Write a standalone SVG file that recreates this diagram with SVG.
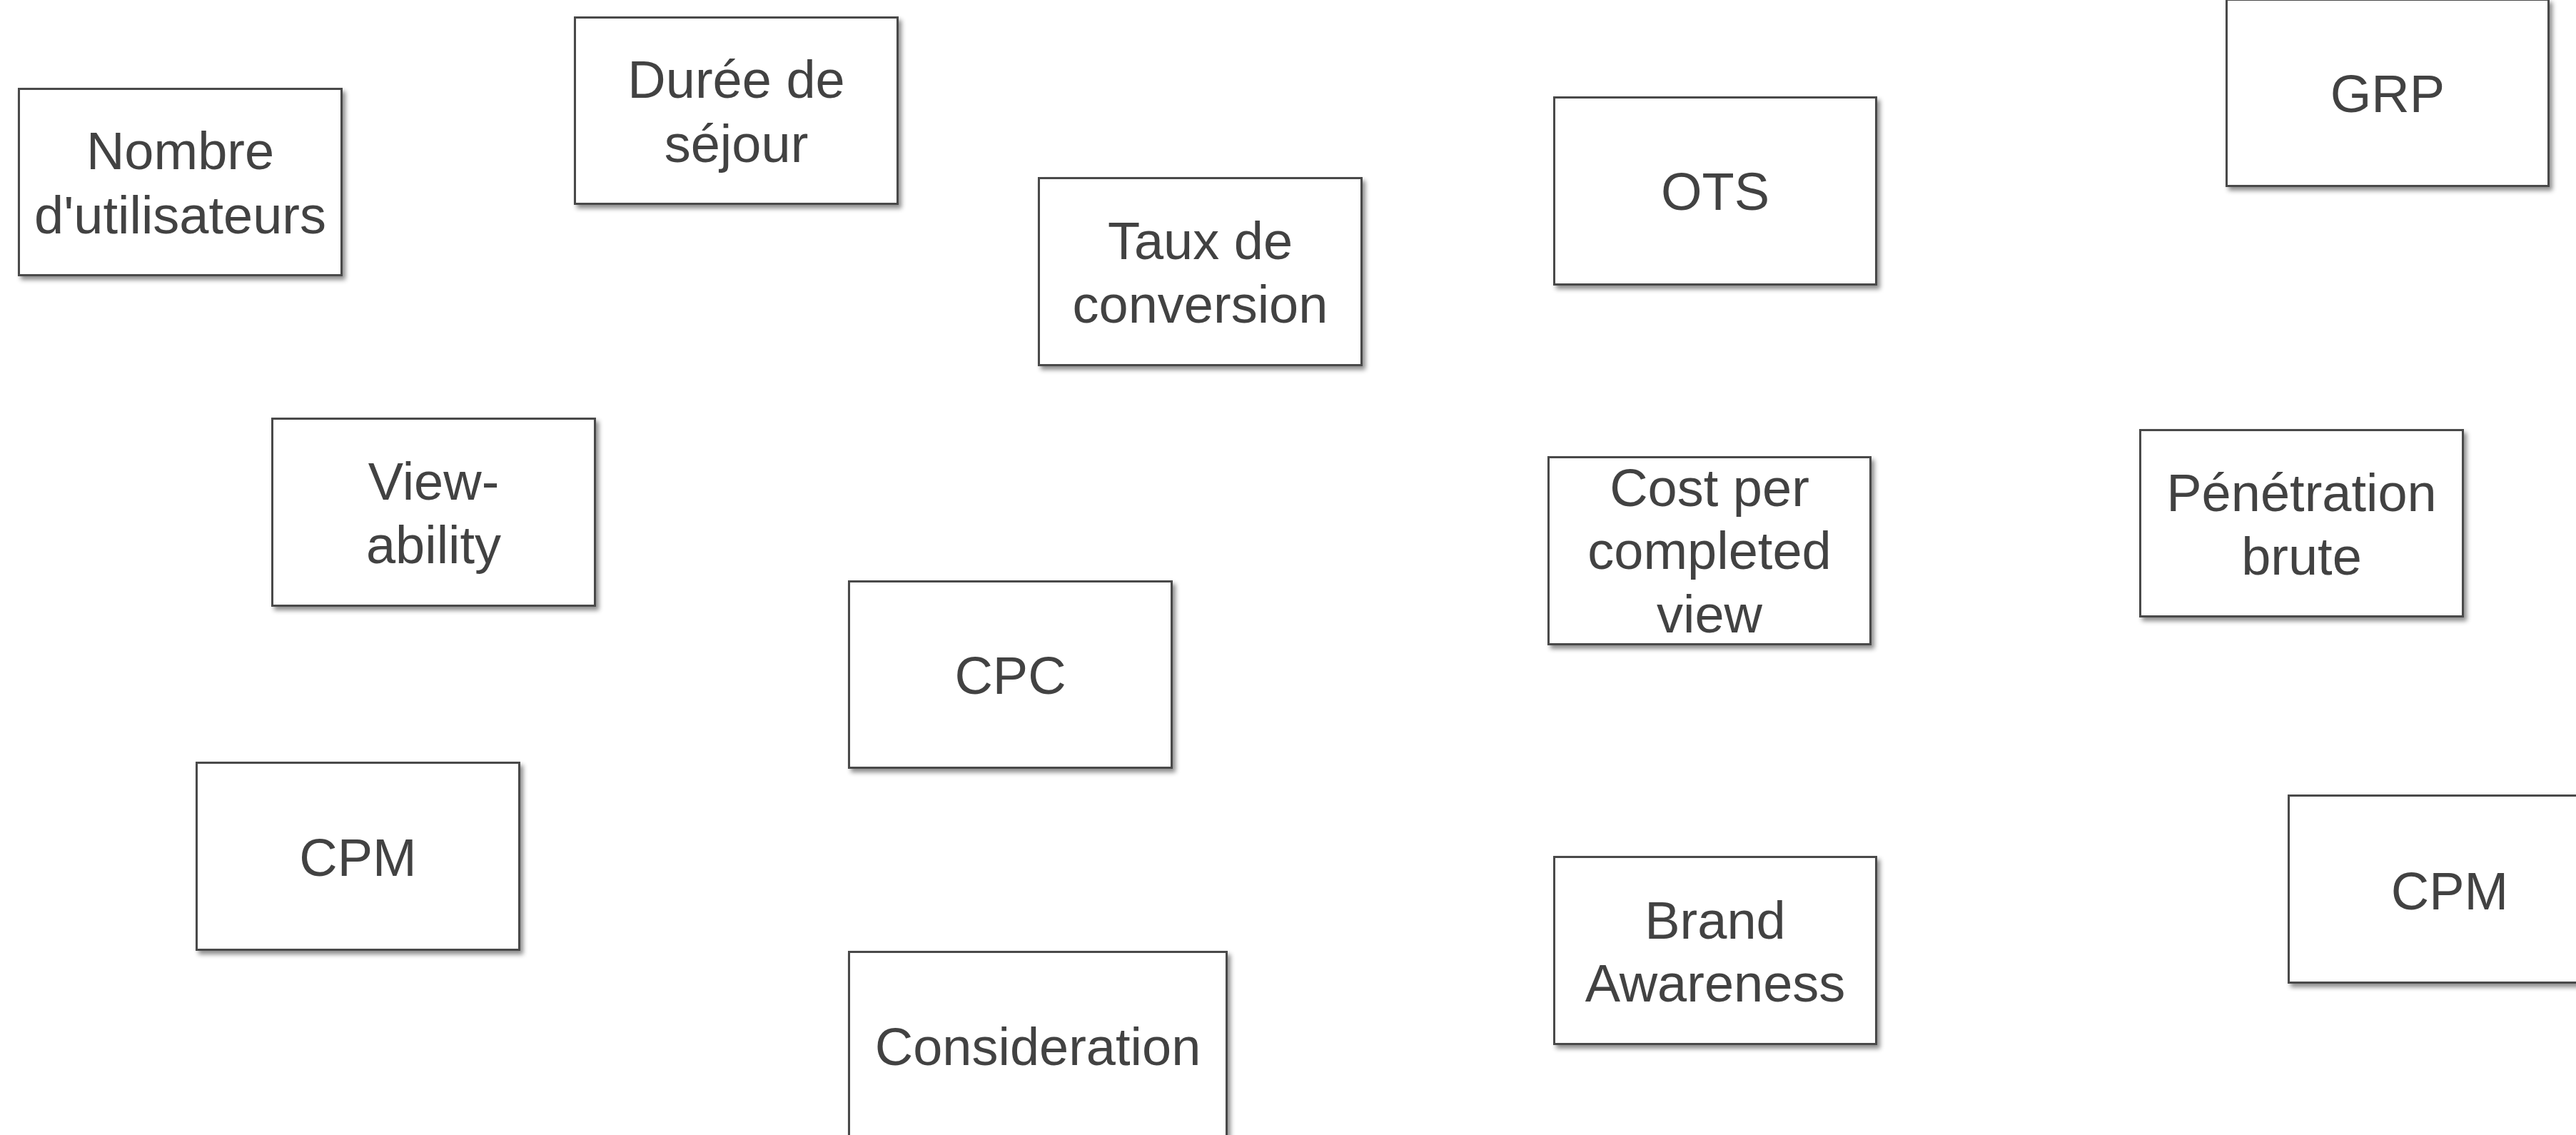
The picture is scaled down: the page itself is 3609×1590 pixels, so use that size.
<svg xmlns="http://www.w3.org/2000/svg" width="3609" height="1590" viewBox="0 0 3609 1590">
<defs>
<filter id="sh" x="-10%" y="-10%" width="125%" height="130%">
<feDropShadow dx="4" dy="5" stdDeviation="3" flood-color="#000" flood-opacity="0.45"/>
</filter>
<style>
.box{fill:#fff;stroke:#4a4a4a;stroke-width:3;filter:url(#sh)}
.lbl{font-family:"Liberation Sans",Arial,sans-serif;font-size:74px;fill:#424242;text-anchor:middle}
</style>
</defs>
<rect width="3609" height="1590" fill="#fff"/>
<g id="connectors"></g>
<g id="n-nombre"><rect class="box" x="26.5" y="124.5" width="452" height="261"/><text class="lbl" x="252.5" y="237"><tspan x="252.5">Nombre</tspan><tspan x="252.5" y="327">d'utilisateurs</tspan></text></g>
<g id="n-duree"><rect class="box" x="805.5" y="24.5" width="452" height="261"/><text class="lbl" x="1031.5" y="137"><tspan x="1031.5">Durée de</tspan><tspan x="1031.5" y="227">séjour</tspan></text></g>
<g id="n-taux"><rect class="box" x="1455.5" y="249.5" width="452" height="262"/><text class="lbl" x="1681.5" y="363"><tspan x="1681.5">Taux de</tspan><tspan x="1681.5" y="452">conversion</tspan></text></g>
<g id="n-ots"><rect class="box" x="2177.5" y="136.5" width="451" height="262"/><text class="lbl" x="2403" y="294">OTS</text></g>
<g id="n-grp"><rect class="box" x="3119.5" y="-0.5" width="451" height="261"/><text class="lbl" x="3345" y="157">GRP</text></g>
<g id="n-viewability"><rect class="box" x="381.5" y="586.5" width="452" height="262"/><text class="lbl" x="607.5" y="700"><tspan x="607.5">View-</tspan><tspan x="607.5" y="789">ability</tspan></text></g>
<g id="n-cpc"><rect class="box" x="1189.5" y="814.5" width="452" height="261"/><text class="lbl" x="1415.5" y="972">CPC</text></g>
<g id="n-cpcv"><rect class="box" x="2169.5" y="640.5" width="451" height="262"/><text class="lbl" x="2395" y="709"><tspan x="2395">Cost per</tspan><tspan x="2395" y="797">completed</tspan><tspan x="2395" y="886">view</tspan></text></g>
<g id="n-penetration"><rect class="box" x="2998.5" y="602.5" width="452" height="261"/><text class="lbl" x="3224.5" y="716"><tspan x="3224.5">Pénétration</tspan><tspan x="3224.5" y="805">brute</tspan></text></g>
<g id="n-cpm-left"><rect class="box" x="275.5" y="1068.5" width="452" height="262"/><text class="lbl" x="501.5" y="1227">CPM</text></g>
<g id="n-consideration"><rect class="box" x="1189.5" y="1333.5" width="529" height="262"/><text class="lbl" x="1454" y="1492">Consideration</text></g>
<g id="n-brand"><rect class="box" x="2177.5" y="1200.5" width="451" height="262"/><text class="lbl" x="2403" y="1315"><tspan x="2403">Brand</tspan><tspan x="2403" y="1403">Awareness</tspan></text></g>
<g id="n-cpm-right"><rect class="box" x="3206.5" y="1114.5" width="452" height="262"/><text class="lbl" x="3432" y="1274">CPM</text></g>
</svg>
